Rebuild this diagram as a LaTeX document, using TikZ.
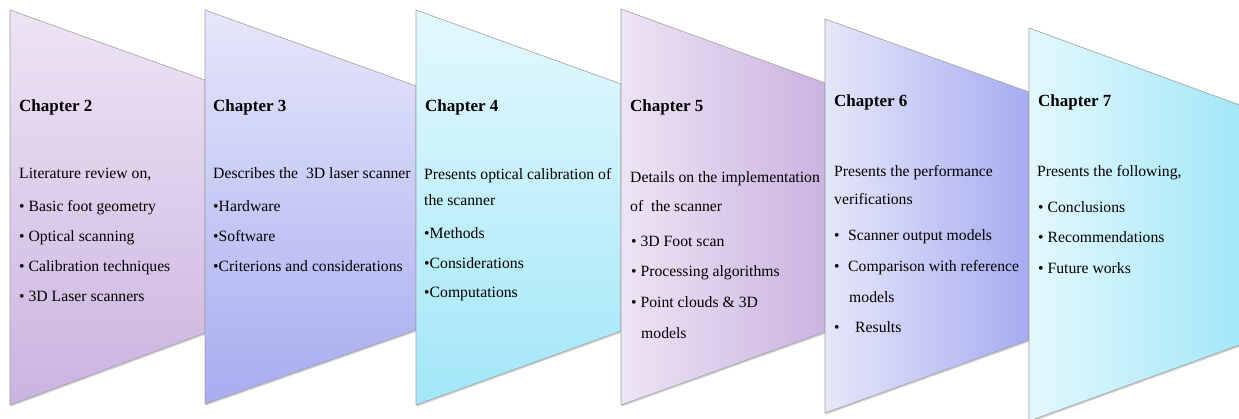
\documentclass[tikz,border=0pt]{standalone}
\usepackage{fontspec}
\setmainfont{LiberationSerif}[Extension=.ttf, UprightFont=*-Regular, BoldFont=*-Bold, ItalicFont=*-Italic, BoldItalicFont=*-BoldItalic]
\usetikzlibrary{shadows}

\definecolor{lilacA}{HTML}{EDE4F4}
\definecolor{lilacB}{HTML}{CBB3E0}
\definecolor{blueA}{HTML}{E6E7FA}
\definecolor{blueB}{HTML}{A6ACF0}
\definecolor{cyanA}{HTML}{E3F8FD}
\definecolor{cyanB}{HTML}{A2E7F8}

\tikzset{
  chev/.style={draw=gray!75, line width=0.6pt,
    drop shadow={opacity=0.35, shadow xshift=0.8pt, shadow yshift=-1.6pt}},
  head/.style={anchor=base west, inner sep=0pt, font=\fontsize{17}{20}\selectfont\bfseries},
  body/.style={anchor=base west, inner sep=0pt, font=\fontsize{15.7}{18}\selectfont}
}

\begin{document}
\begin{tikzpicture}[x=1pt, y=-1pt]
  \useasboundingbox (0,0) rectangle (1239,419);
  \clip (0,0) rectangle (1239,419);

  % the six panels, each one over the tip of the one before
  \draw[chev, top color=lilacA, bottom color=lilacB]
    (10,10) -- (205,80) -- (205,333) -- (10,405) -- cycle;
  \draw[chev, top color=blueA, bottom color=blueB]
    (205,10) -- (416,86) -- (416,330) -- (205,404) -- cycle;
  \draw[chev, top color=cyanA, bottom color=cyanB]
    (416,10) -- (621,84) -- (621,331) -- (416,405) -- cycle;
  \draw[chev, left color=lilacA, right color=lilacB]
    (621,9) -- (825,83) -- (825,332) -- (621,405) -- cycle;
  \draw[chev, left color=blueA, right color=blueB]
    (825,19) -- (1029,92) -- (1029,340) -- (825,413) -- cycle;
  \draw[chev, left color=cyanA, right color=cyanB]
    (1029,28) -- (1245,107) -- (1245,343) -- (1029,421) -- cycle;

  % Chapter 2
  \node[head] (c2) at (19,112) {Chapter 2};
  \node[body] (c2a) at (19,179) {Literature review on,};
  \node[body] (c2b) at (19,212) {\textbullet{} Basic foot geometry};
  \node[body] (c2c) at (19,242) {\textbullet{} Optical scanning};
  \node[body] (c2d) at (19,272) {\textbullet{} Calibration techniques};
  \node[body] (c2e) at (19,302) {\textbullet{} 3D Laser scanners};

  % Chapter 3
  \node[head] (c3) at (213,112) {Chapter 3};
  \node[body] (c3a) at (213,179) {Describes the\ \ 3D laser scanner};
  \node[body] (c3b) at (213,212) {\textbullet Hardware};
  \node[body] (c3c) at (213,242) {\textbullet Software};
  \node[body] (c3d) at (213,272) {\textbullet Criterions and considerations};

  % Chapter 4
  \node[head] (c4) at (425,112) {Chapter 4};
  \node[body] (c4a) at (424,180) {Presents optical calibration of};
  \node[body] (c4b) at (424,206) {the scanner};
  \node[body] (c4c) at (424,239) {\textbullet Methods};
  \node[body] (c4d) at (424,269) {\textbullet Considerations};
  \node[body] (c4e) at (424,298) {\textbullet Computations};

  % Chapter 5
  \node[head] (c5) at (630,112) {Chapter 5};
  \node[body] (c5a) at (630,183) {Details on the implementation};
  \node[body] (c5b) at (630,212) {of\ \ the scanner};
  \node[body] (c5c) at (631,247) {\textbullet{} 3D Foot scan};
  \node[body] (c5d) at (631,277) {\textbullet{} Processing algorithms};
  \node[body] (c5e) at (631,308) {\textbullet{} Point clouds \& 3D};
  \node[body] (c5f) at (641,338) {models};

  % Chapter 6
  \node[head] (c6) at (834,107) {Chapter 6};
  \node[body] (c6a) at (834,177) {Presents the performance};
  \node[body] (c6b) at (834,205) {verifications};
  \node[body] (c6c) at (834,241) {\textbullet\hspace{8.5pt}Scanner output models};
  \node[body] (c6d) at (834,272) {\textbullet\hspace{8.5pt}Comparison with reference};
  \node[body] (c6e) at (849,303) {models};
  \node[body] (c6f) at (834,333) {\textbullet\hspace{15.5pt}Results};

  % Chapter 7
  \node[head] (c7) at (1038,107) {Chapter 7};
  \node[body] (c7a) at (1037,177) {Presents the following,};
  \node[body] (c7b) at (1038,213) {\textbullet{} Conclusions};
  \node[body] (c7c) at (1038,243) {\textbullet{} Recommendations};
  \node[body] (c7d) at (1038,274) {\textbullet{} Future works};
\end{tikzpicture}
\end{document}
